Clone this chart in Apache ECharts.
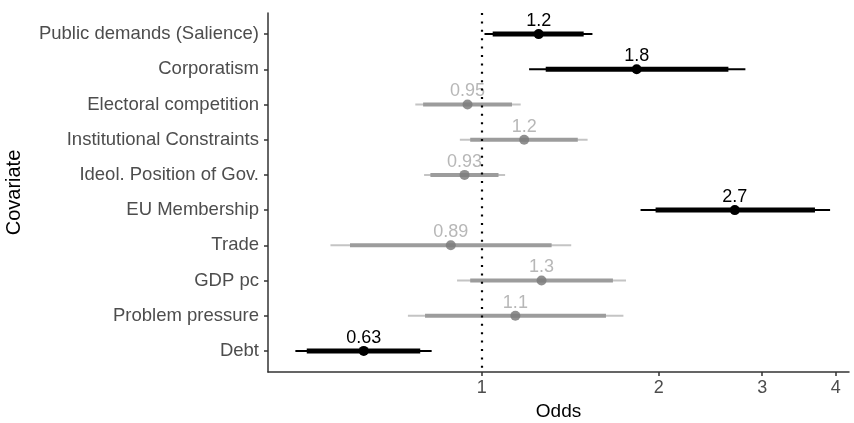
<!DOCTYPE html>
<html>
<head>
<meta charset="utf-8">
<script src="https://cdn.jsdelivr.net/npm/echarts@6/dist/echarts.min.js"></script>
<style>
  html, body { margin: 0; padding: 0; background: #fff; }
  #chart { width: 854px; height: 423px; }
</style>
</head>
<body>
<div id="chart"></div>
<script>
const covariates = ['Public demands (Salience)', 'Corporatism', 'Electoral competition', 'Institutional Constraints',
  'Ideol. Position of Gov.', 'EU Membership', 'Trade', 'GDP pc', 'Problem pressure', 'Debt']
const estimate = [1.25, 1.835, 0.946, 1.181, 0.935, 2.695, 0.886, 1.264, 1.141, 0.630]
const estLabels = ['1.2', '1.8', '0.95', '1.2', '0.93', '2.7', '0.89', '1.3', '1.1', '0.63']
const low95 = [1.011, 1.204, 0.771, 0.918, 0.798, 1.863, 0.553, 0.908, 0.749, 0.482]
const high95 = [1.543, 2.809, 1.165, 1.514, 1.096, 3.914, 1.420, 1.760, 1.742, 0.822]
const low80 = [1.044, 1.285, 0.795, 0.956, 0.818, 1.976, 0.597, 0.956, 0.801, 0.504]
const high80 = [1.491, 2.628, 1.126, 1.457, 1.068, 3.689, 1.315, 1.672, 1.627, 0.786]
const oddsTicks = [1, 2, 3, 4]

const chart = echarts.init(document.getElementById('chart'))

// significant = 95% interval does not cross 1
const sig = covariates.map((c, i) => low95[i] > 1 || high95[i] < 1)
const rows = covariates.map((c, i) => i)

const font = 'Liberation Sans'

const option = {
  animation: false,
  grid: { left: 268, right: 5, top: 13, bottom: 51, containLabel: false, outerBoundsMode: 'none' },
  xAxis: {
    type: 'log',
    logBase: 10,
    min: 0.433,
    max: 4.215,
    name: 'Odds',
    nameLocation: 'middle',
    nameGap: 29,
    nameTextStyle: { fontFamily: font, fontSize: 19, color: '#000' },
    axisLine: { onZero: false, lineStyle: { color: '#333', width: 1.5 } },
    axisTick: { show: true, length: 4, customValues: oddsTicks, lineStyle: { color: '#333', width: 1.5 } },
    axisLabel: { customValues: oddsTicks, fontFamily: font, fontSize: 18, color: '#4d4d4d', margin: 7,
      formatter: v => String(Math.round(v)) },
    splitLine: { show: false },
    minorTick: { show: false },
  },
  yAxis: {
    type: 'value',
    inverse: true,
    min: -0.6,
    max: 9.6,
    name: 'Covariate',
    nameLocation: 'middle',
    nameRotate: 90,
    nameGap: 244,
    nameTextStyle: { fontFamily: font, fontSize: 20, color: '#000' },
    axisLine: { show: true, onZero: false, lineStyle: { color: '#333', width: 1.5 } },
    axisTick: { show: true, length: 4, customValues: rows, lineStyle: { color: '#333', width: 1.5 } },
    axisLabel: { customValues: rows, fontFamily: font, fontSize: 18.5, color: '#4d4d4d', margin: 9,
      formatter: v => covariates[Math.round(v)] || '' },
    splitLine: { show: false },
  },
  series: [
    {
      type: 'custom',
      data: rows.map(i => [low95[i], high95[i], low80[i], high80[i], i]),
      renderItem: (params, api) => {
        const i = api.value(4)
        const a = api.coord([api.value(0), i])
        const b = api.coord([api.value(1), i])
        const c = api.coord([api.value(2), i])
        const d = api.coord([api.value(3), i])
        const s = sig[i]
        return {
          type: 'group',
          children: [
            { type: 'line', shape: { x1: a[0], y1: a[1], x2: b[0], y2: b[1] },
              style: { stroke: s ? '#000' : '#c4c4c4', lineWidth: 2 } },
            { type: 'line', shape: { x1: c[0], y1: c[1], x2: d[0], y2: d[1] },
              style: { stroke: s ? '#000' : '#9c9c9c', lineWidth: s ? 5 : 4 } },
          ],
        }
      },
      z: 2,
    },
    {
      type: 'scatter',
      symbolSize: 10,
      data: rows.map(i => ({
        value: [estimate[i], i],
        itemStyle: { color: sig[i] ? '#000' : '#7d7d7d', opacity: sig[i] ? 1 : 0.85 },
        label: { color: sig[i] ? '#000' : '#aaa' },
      })),
      label: {
        show: true,
        position: 'top',
        distance: -1,
        fontFamily: font,
        fontSize: 18,
        formatter: p => estLabels[p.dataIndex],
      },
      z: 3,
    },
    {
      type: 'line',
      data: [],
      markLine: {
        silent: true,
        symbol: 'none',
        label: { show: false },
        lineStyle: { color: '#000', type: [2, 6.4], width: 2.2 },
        data: [{ xAxis: 1 }],
      },
      z: 4,
    },
  ],
}

chart.setOption(option)
</script>
</body>
</html>
